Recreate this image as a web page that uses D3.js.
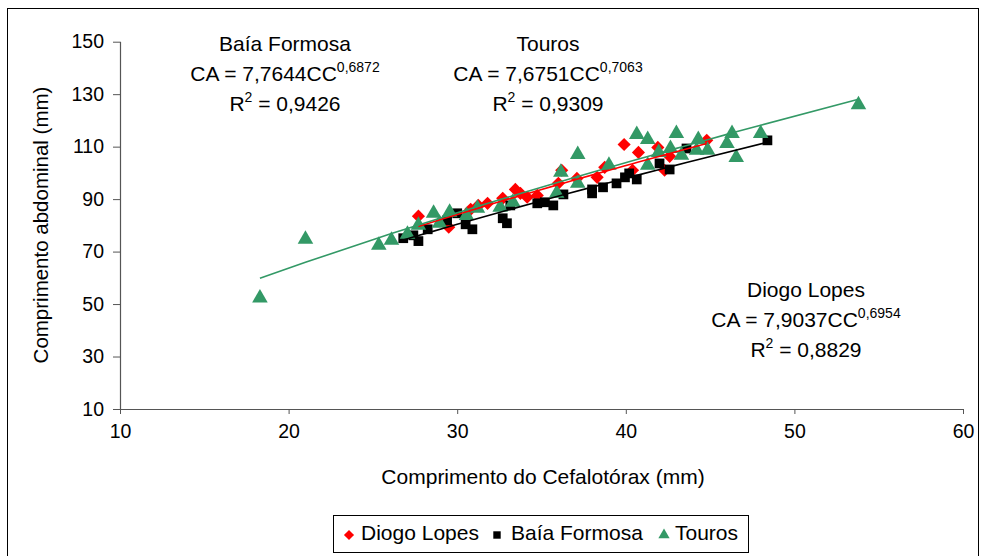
<!DOCTYPE html>
<html>
<head>
<meta charset="utf-8">
<script src="https://cdn.jsdelivr.net/npm/d3@7"></script>
<style>
html,body{margin:0;padding:0;background:#fff;}
svg{display:block;font-family:"Liberation Sans",Arial,sans-serif;}
</style>
</head>
<body>
<svg id="chart" width="982" height="556"></svg>
<script>
// ---- data ----
const seriesNames = ["Diogo Lopes", "Baía Formosa", "Touros"];

const diogoX = [27.7,29.5,30.8,31.25,31.8,32.7,33.45,33.75,34.15,34.75,36.0,36.2,37.1,38.3,38.75,39.9,40.4,40.75,41.9,42.3,42.6,44.8];
const diogoY = [83.5,79.3,86.1,87.6,88.4,90.3,93.7,92.2,90.7,91.4,96.0,101.0,97.9,98.3,102.1,110.8,101.0,107.8,109.7,101.0,106.3,112.4];

const baiaX = [26.8,27.4,27.7,28.25,29.4,30.0,30.5,30.9,32.7,32.95,33.15,34.75,35.2,35.7,36.3,38.0,38.0,38.65,39.45,39.95,40.2,40.65,42.0,42.6,43.6,48.4];
const baiaY = [75.1,76.2,74.0,78.5,81.9,84.6,80.4,78.5,82.7,80.8,87.6,88.4,88.8,87.6,91.8,93.7,92.2,94.5,96.0,98.3,99.8,97.5,103.6,101.3,109.3,112.4];

const tourosX = [18.3,21.0,25.35,26.1,27.05,27.7,28.6,28.95,29.55,30.55,31.2,32.55,33.3,35.9,36.15,37.15,37.15,39.0,40.65,41.3,41.3,41.95,42.65,43.0,43.3,44.2,44.3,44.85,46.0,46.3,46.55,48.0,53.8];
const tourosY = [52.3,74.7,72.4,74.3,76.6,80.0,84.6,80.8,85.0,83.8,86.5,86.9,88.8,92.2,100.2,107.0,96.0,102.9,114.6,112.7,102.9,107.8,109.3,115.0,106.7,108.6,112.7,108.6,111.2,115.0,105.9,115.0,126.0];

// power trendline coefficients (CA = a * CC^b)
const trendA = [7.9037, 7.7644, 7.6751];
const trendB = [0.6954, 0.6872, 0.7063];
const r2Labels = ["0,8829", "0,9426", "0,9309"];
const coefLabels = ["7,9037", "7,7644", "7,6751"];
const expLabels = ["0,6954", "0,6872", "0,7063"];

const xTicks = [10,20,30,40,50,60];
const yTicks = [10,30,50,70,90,110,130,150];

const colors = ["#ff0000", "#000000", "#339966"];

// ---- drawing ----
const svg = d3.select("#chart");
const x = d3.scaleLinear().domain([10,60]).range([120,963]);
const y = d3.scaleLinear().domain([10,150]).range([409,41.7]);

// outer frame
svg.append("rect").attr("x",7.5).attr("y",8.5).attr("width",971).attr("height",570)
  .attr("fill","none").attr("stroke","#000").attr("stroke-width",1);

// axes
const xAxis = d3.axisBottom(x).tickValues(xTicks).tickSize(5).tickPadding(10).tickFormat(d3.format("d"));
const yAxis = d3.axisLeft(y).tickValues(yTicks).tickSize(7).tickPadding(9).tickFormat(d3.format("d"));
const gx = svg.append("g").attr("transform","translate(0,409)").call(xAxis);
const gy = svg.append("g").attr("transform","translate(120,0)").call(yAxis);
[gx,gy].forEach(g=>{
  g.selectAll("path").attr("stroke","#555").attr("stroke-width",1.2);
  g.selectAll("line").attr("stroke","#555");
  g.selectAll("text").attr("font-size","19.5px").attr("font-family","Liberation Sans, Arial, sans-serif").attr("fill","#000");
});
gx.select(".domain").attr("d","M120,0.5H963");
gy.select(".domain").attr("d","M0.5,409V41.7");

// axis titles
svg.append("text").attr("x",543).attr("y",484).attr("text-anchor","middle")
  .attr("font-size","21px").text("Comprimento do Cefalotórax (mm)");
svg.append("text").attr("transform","translate(48,225) rotate(-90)").attr("text-anchor","middle")
  .attr("font-size","20.5px").text("Comprimento abdominal (mm)");

// series data
const series = [
  {xs:diogoX, ys:diogoY},
  {xs:baiaX, ys:baiaY},
  {xs:tourosX, ys:tourosY}
];

const symbols = [
  d3.symbol().type(d3.symbolDiamond2).size(110),
  d3.symbol().type(d3.symbolSquare).size(95),
  d3.symbol().type(d3.symbolTriangle).size(105)
];

series.forEach((s,i)=>{
  const pts = s.xs.map((v,j)=>[v, s.ys[j]]);
  svg.append("g").selectAll("path").data(pts).enter().append("path")
    .attr("d", symbols[i])
    .attr("transform", d=>`translate(${x(d[0])},${y(d[1])})`)
    .attr("fill", colors[i]);
});

// trendlines computed at each series' sorted x values
const line = d3.line().x(d=>x(d[0])).y(d=>y(d[1]));
series.forEach((s,i)=>{
  const xs = s.xs.slice().sort((a,b)=>a-b);
  const pts = xs.map(v=>[v, trendA[i]*Math.pow(v, trendB[i])]);
  svg.append("path").attr("d", line(pts)).attr("fill","none")
    .attr("stroke", colors[i]).attr("stroke-width",1.6);
});

// equation annotations
const ann = [
  {name:seriesNames[1], idx:1, cx:285, y0:51},
  {name:seriesNames[2], idx:2, cx:548, y0:51},
  {name:seriesNames[0], idx:0, cx:806, y0:297}
];
ann.forEach(a=>{
  const g = svg.append("g").attr("font-size","21px").attr("text-anchor","middle");
  g.append("text").attr("x",a.cx).attr("y",a.y0).text(a.name);
  const t2 = g.append("text").attr("x",a.cx).attr("y",a.y0+30);
  t2.append("tspan").text("CA = " + coefLabels[a.idx] + "CC");
  t2.append("tspan").attr("dy",-9).attr("font-size","14px").text(expLabels[a.idx]);
  const t3 = g.append("text").attr("x",a.cx).attr("y",a.y0+60);
  t3.append("tspan").text("R");
  t3.append("tspan").attr("dy",-9).attr("font-size","14px").text("2");
  t3.append("tspan").attr("dy",9).text(" = " + r2Labels[a.idx]);
});

// legend
const lg = svg.append("g");
lg.append("rect").attr("x",333.5).attr("y",515.5).attr("width",415).attr("height",37)
  .attr("fill","#fff").attr("stroke","#000");
const legItems = [
  {sx:349, tx:361},
  {sx:497, tx:511},
  {sx:664, tx:675}
];
const legSym = [
  d3.symbol().type(d3.symbolDiamond2).size(65),
  d3.symbol().type(d3.symbolSquare).size(55),
  d3.symbol().type(d3.symbolTriangle).size(55)
];
legItems.forEach((it,i)=>{
  lg.append("path").attr("d", legSym[i]).attr("transform",`translate(${it.sx},${535})`).attr("fill",colors[i]);
  lg.append("text").attr("x",it.tx).attr("y",540).attr("font-size","21px").text(seriesNames[i]);
});
</script>
</body>
</html>
